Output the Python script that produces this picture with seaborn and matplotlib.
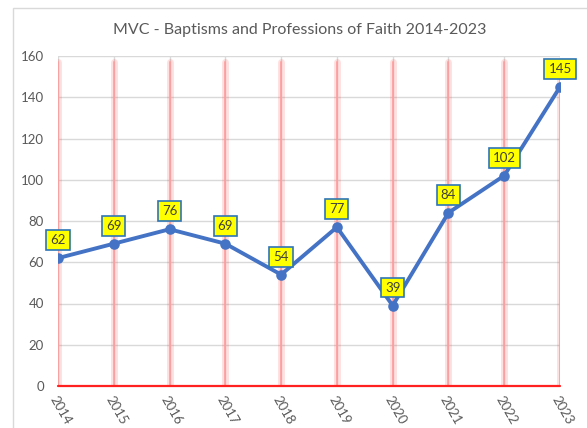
import pandas as pd
import numpy as np
import matplotlib.pyplot as plt
import seaborn as sb
from matplotlib.patches import Rectangle

#---- D A T A ----
years = ["2014", "2015", "2016", "2017", "2018", "2019", "2020", "2021", "2022", "2023"]
counts = [62, 69, 76, 69, 54, 77, 39, 84, 102, 145]
yticks = [0, 20, 40, 60, 80, 100, 120, 140, 160]
title = "MVC - Baptisms and Professions of Faith 2014-2023"

df = pd.DataFrame({"Year": years, "Count": counts})

#----- M A I N -----
sb.set_theme(style="white")
plt.rcParams["font.family"] = ["Lato", "DejaVu Sans"]

fig = plt.figure(figsize=(5.87, 4.28), dpi=100)
ax = fig.add_axes([58 / 587, 42 / 428, 502 / 587, 330 / 428])

# outer chart frame
fig.patches.append(Rectangle((13 / 587, -0.05), 1.2, 0.05 + 420 / 428,
                             transform=fig.transFigure, fill=False,
                             edgecolor="#d9d9d9", linewidth=1.0))

sb.pointplot(data=df, x="Year", y="Count", color="#4472C4", ax=ax,
             markersize=5.5, linewidth=2.8, zorder=5)

# grid
ax.set_ylim(0, 160)
ax.set_xlim(0, len(years) - 1)
ax.set_yticks(yticks)
ax.yaxis.grid(True, color="#d9d9d9", linewidth=1)
ax.xaxis.grid(True, color="#d9d9d9", linewidth=1)
ax.set_axisbelow(True)

# red glowing drop lines
for i in range(len(years)):
    ax.axvline(i, ymax=157 / 160, color="#ff0000", alpha=0.12, linewidth=5, zorder=1)
    ax.axvline(i, ymax=157 / 160, color="#ff9a9a", alpha=0.8, linewidth=1.4, zorder=2)
ax.axhline(0, color="#ff2020", linewidth=1.6, zorder=3, clip_on=False)

# data labels
for i, v in enumerate(counts):
    ax.annotate(str(v), (i, v), xytext=(0, 13), textcoords="offset points",
                ha="center", va="center", fontsize=9.5, color="#404040",
                bbox=dict(boxstyle="square,pad=0.3", facecolor="#ffff00",
                          edgecolor="#2e75b6", linewidth=1.2),
                zorder=6, annotation_clip=False)

for s in ax.spines.values():
    s.set_visible(False)

ax.set_xlabel("")
ax.set_ylabel("")
ax.tick_params(axis="both", length=0, colors="#595959", labelsize=9.5)
ax.tick_params(axis="y", pad=10)
ax.tick_params(axis="x", pad=6)
plt.setp(ax.get_xticklabels(), rotation=-60, ha="left", va="top",
         rotation_mode="anchor")

fig.text(300 / 587, 1 - 30 / 428, title, ha="center", va="center",
         fontsize=11.5, color="#595959")

fig.savefig("out.png", dpi=100)
